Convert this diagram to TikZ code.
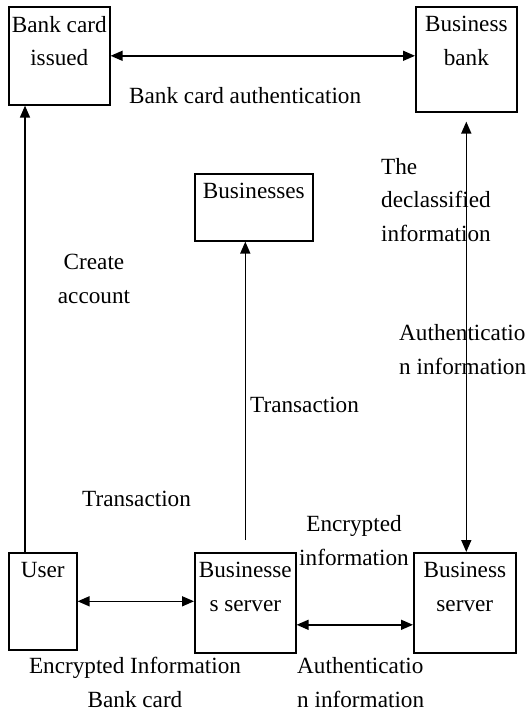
\documentclass[tikz,border=0pt]{standalone}
\usepackage{fontspec}
\setmainfont{Liberation Serif}
\usetikzlibrary{positioning, arrows.meta}

\begin{document}
\begin{tikzpicture}[
  x=1pt, y=-1pt,
  font=\fontsize{23.2}{33.5}\selectfont,
  box/.style={rectangle, draw, line width=1.6pt, anchor=north west, inner sep=0pt},
  boxtext/.style={anchor=north, yshift=-10pt, inner sep=0pt, align=center},
  txt/.style={inner sep=0pt, anchor=base west, align=left},
  link/.style={line width=1.5pt, -{Triangle[length=12pt,width=10pt]}},
  both/.style={line width=1.5pt, {Triangle[length=12pt,width=10pt]}-{Triangle[length=12pt,width=10pt]}}
]
\useasboundingbox (0,0) rectangle (526,712);

\node[box, minimum width=101pt, minimum height=98pt, label={[boxtext]north:Bank card\\issued}] (issuer) at (8,6) {};
\node[box, minimum width=101pt, minimum height=105pt, label={[boxtext]north:Business\\bank}] (bank) at (415,6) {};
\node[box, minimum width=118pt, minimum height=67pt, label={[boxtext]north:Businesses}] (shops) at (194,173) {};
\node[box, minimum width=68pt, minimum height=97pt, label={[boxtext]north:User}] (user) at (8,552) {};
\node[box, minimum width=101pt, minimum height=100pt, label={[boxtext]north:Businesse\\s server}] (shopserver) at (194,552) {};
\node[box, minimum width=102pt, minimum height=100pt, label={[boxtext]north:Business\\server}] (bankserver) at (413,552) {};

\draw[both] (issuer.east) -- (issuer.east -| bank.west);
\draw[link] ([xshift=17pt]user.north west) -- ([xshift=17pt]issuer.south west);
\draw[link] ([yshift=12pt]shopserver.north) -- (shopserver.north |- shops.south);
\draw[both] ([yshift=-9pt]bank.south) -- (bank.south |- bankserver.north);
\draw[both] (user.east) -- (user.east -| shopserver.west);
\draw[both] ([yshift=-22pt]shopserver.east) -- ([yshift=-22pt]shopserver.east -| bankserver.west);

\node[txt] (authlbl) at (129,103) {Bank card authentication};
\node[txt] (declbl) at (381,241) {The\\declassified\\information};
\node[txt, anchor=base, align=center] (acclbl) at (94,303) {Create\\account};
\node[txt] (authinfo) at (399,374) {Authenticatio\\n information};
\node[txt] (translbl) at (250,412) {Transaction};
\node[txt] (userlbl) at (82,506) {Transaction};
\node[txt, anchor=base, align=center] (enclbl) at (354,565) {Encrypted\\information};
\node[txt, anchor=base, align=center] (cardlbl) at (135,707) {Encrypted Information\\Bank card};
\node[txt] (replylbl) at (297,707) {Authenticatio\\n information};
\end{tikzpicture}
\end{document}
